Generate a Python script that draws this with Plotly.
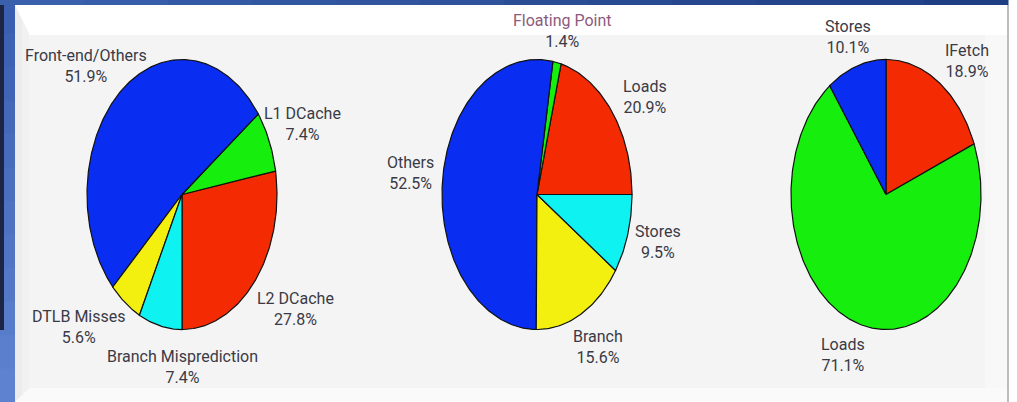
import math
import plotly.graph_objects as go

W, H = 1017, 402

# Percent breakdowns, listed in drawing order around each pie
mem_labels = ["L2 DCache", "L1 DCache", "Front-end/Others", "DTLB Misses", "Branch Misprediction"]
mem_values = [27.8, 7.4, 51.9, 5.6, 7.4]

mix_labels = ["Loads", "Floating Point", "Others", "Branch", "Stores"]
mix_values = [20.9, 1.4, 52.5, 15.6, 9.5]

acc_labels = ["IFetch", "Loads", "Stores"]
acc_values = [18.9, 71.1, 10.1]

BLUE, GREEN, RED, YELLOW, CYAN = "#0a2df2", "#16ee0e", "#f42a02", "#f3ef0e", "#0ff2f2"
TEXT = "#3a3a46"
FONT = "Roboto, Liberation Sans, sans-serif"
FSIZE = 16

pies = [
    dict(labels=mem_labels, values=mem_values,
         colors=[RED, GREEN, BLUE, YELLOW, CYAN],
         cx=182, cy=194.5, rx=95, ry=135, start=-90, sign=1, xr=(-1.8, 1.8),
         lab_pos=[(1.19, -0.85), (1.27, 0.52), (-1.01, 0.95), (-1.08, -0.98), (0.0, -1.28)]),
    dict(labels=mix_labels, values=mix_values,
         colors=[RED, GREEN, BLUE, YELLOW, CYAN],
         cx=537, cy=194.5, rx=95, ry=135, start=0, sign=1, xr=(-1.6, 1.6),
         lab_pos=[(1.14, 0.72), (0.27, 1.21), (-1.33, 0.16), (0.64, -1.13), (1.27, -0.35)]),
    dict(labels=acc_labels, values=acc_values,
         colors=[RED, GREEN, BLUE],
         cx=886, cy=194.5, rx=95, ry=135, start=90, sign=-1, xr=(-1.8, 1.3),
         lab_pos=[(0.85, 0.99), (-0.45, -1.19), (-0.40, 1.17)]),
]
YR = (-1.5, 1.4)

fig = go.Figure()
layout = dict(width=W, height=H, autosize=False, margin=dict(l=0, r=0, t=0, b=0),
              paper_bgcolor="#f4f4f4", plot_bgcolor="rgba(0,0,0,0)", showlegend=False,
              font=dict(family=FONT, size=FSIZE, color=TEXT))
annotations = []

for i, p in enumerate(pies):
    n = i + 1
    xa, ya = ("x", "y") if n == 1 else (f"x{n}", f"y{n}")
    total = sum(p["values"])
    ang = p["start"]
    for lab, val, col in zip(p["labels"], p["values"], p["colors"]):
        span = 360.0 * val / total * p["sign"]
        steps = max(3, int(abs(span) / 1.0) + 2)
        xs, ys = [0.0], [0.0]
        for k in range(steps + 1):
            a = math.radians(ang + span * k / steps)
            xs.append(math.cos(a))
            ys.append(math.sin(a))
        xs.append(0.0)
        ys.append(0.0)
        fig.add_trace(go.Scatter(x=xs, y=ys, xaxis=xa, yaxis=ya, mode="lines",
                                 fill="toself", fillcolor=col,
                                 line=dict(color="#111111", width=1.2),
                                 hoverinfo="skip", name=lab))
        ang += span
    for lab, val, (lx, ly) in zip(p["labels"], p["values"], p["lab_pos"]):
        first = f"<span style='color:#8c5a7c'>{lab}</span>" if lab == "Floating Point" else lab
        annotations.append(dict(x=lx, y=ly, xref=xa, yref=ya, showarrow=False,
                                text=f"{first}<br>{val:.1f}%", align="center",
                                xanchor="center", yanchor="middle",
                                font=dict(family=FONT, size=FSIZE, color=TEXT)))
    x0 = (p["cx"] + p["xr"][0] * p["rx"]) / W
    x1 = (p["cx"] + p["xr"][1] * p["rx"]) / W
    y0 = 1 - (p["cy"] - YR[0] * p["ry"]) / H
    y1 = 1 - (p["cy"] - YR[1] * p["ry"]) / H
    axkey = "xaxis" if n == 1 else f"xaxis{n}"
    aykey = "yaxis" if n == 1 else f"yaxis{n}"
    layout[axkey] = dict(domain=[x0, x1], range=list(p["xr"]), visible=False, fixedrange=True,
                         anchor=ya)
    layout[aykey] = dict(domain=[y0, y1], range=list(YR), visible=False, fixedrange=True,
                         anchor=xa)


def px_rect(x0, y0, x1, y1, color):
    return dict(type="rect", xref="paper", yref="paper", layer="below",
                x0=x0 / W, x1=x1 / W, y0=1 - y1 / H, y1=1 - y0 / H,
                fillcolor=color, line=dict(width=0))


def px_poly(pts, color):
    path = "M " + " L ".join(f"{x / W:.5f},{1 - y / H:.5f}" for x, y in pts) + " Z"
    return dict(type="path", xref="paper", yref="paper", layer="below", path=path,
                fillcolor=color, line=dict(width=0))


def blend(c0, c1, t):
    a = [int(c0[k:k + 2], 16) for k in (1, 3, 5)]
    b = [int(c1[k:k + 2], 16) for k in (1, 3, 5)]
    return "#" + "".join(f"{round(u + (v - u) * t):02x}" for u, v in zip(a, b))


shapes = [
    # slide panel and bevels
    px_rect(15, 5, 1008, 35, "#ffffff"),
    px_rect(15, 388, 1008, 402, "#fafafa"),
    px_poly([(15, 5), (29, 34), (29, 388), (15, 402)], "#ececec"),
    px_poly([(22, 20), (29, 34), (29, 388), (22, 395)], "#f1f1f1"),
    px_rect(985, 35, 1007, 388, "#f8f8f8"),
    px_rect(1008, 0, 1017, 402, "#ffffff"),
    px_rect(1007, 5, 1009, 402, "#bdbdbd"),
]
# left frame edge: vertical blue gradient
bands = 12
for k in range(bands):
    y0 = H * k / bands
    y1 = H * (k + 1) / bands + 0.5
    shapes.append(px_rect(0, y0, 15, y1, blend("#3a5fb0", "#5e82d0", k / (bands - 1))))
shapes.append(px_rect(0, 0, 4, 330, "#1c2544"))
# top frame edge: horizontal blue gradient
for k in range(bands):
    x0 = 1008 * k / bands
    x1 = 1008 * (k + 1) / bands + 0.5
    shapes.append(px_rect(x0, 0, x1, 5, blend("#3a60ac", "#1e3e84", k / (bands - 1))))

layout["shapes"] = shapes
layout["annotations"] = annotations
fig.update_layout(**layout)
fig.write_html("out.html")
